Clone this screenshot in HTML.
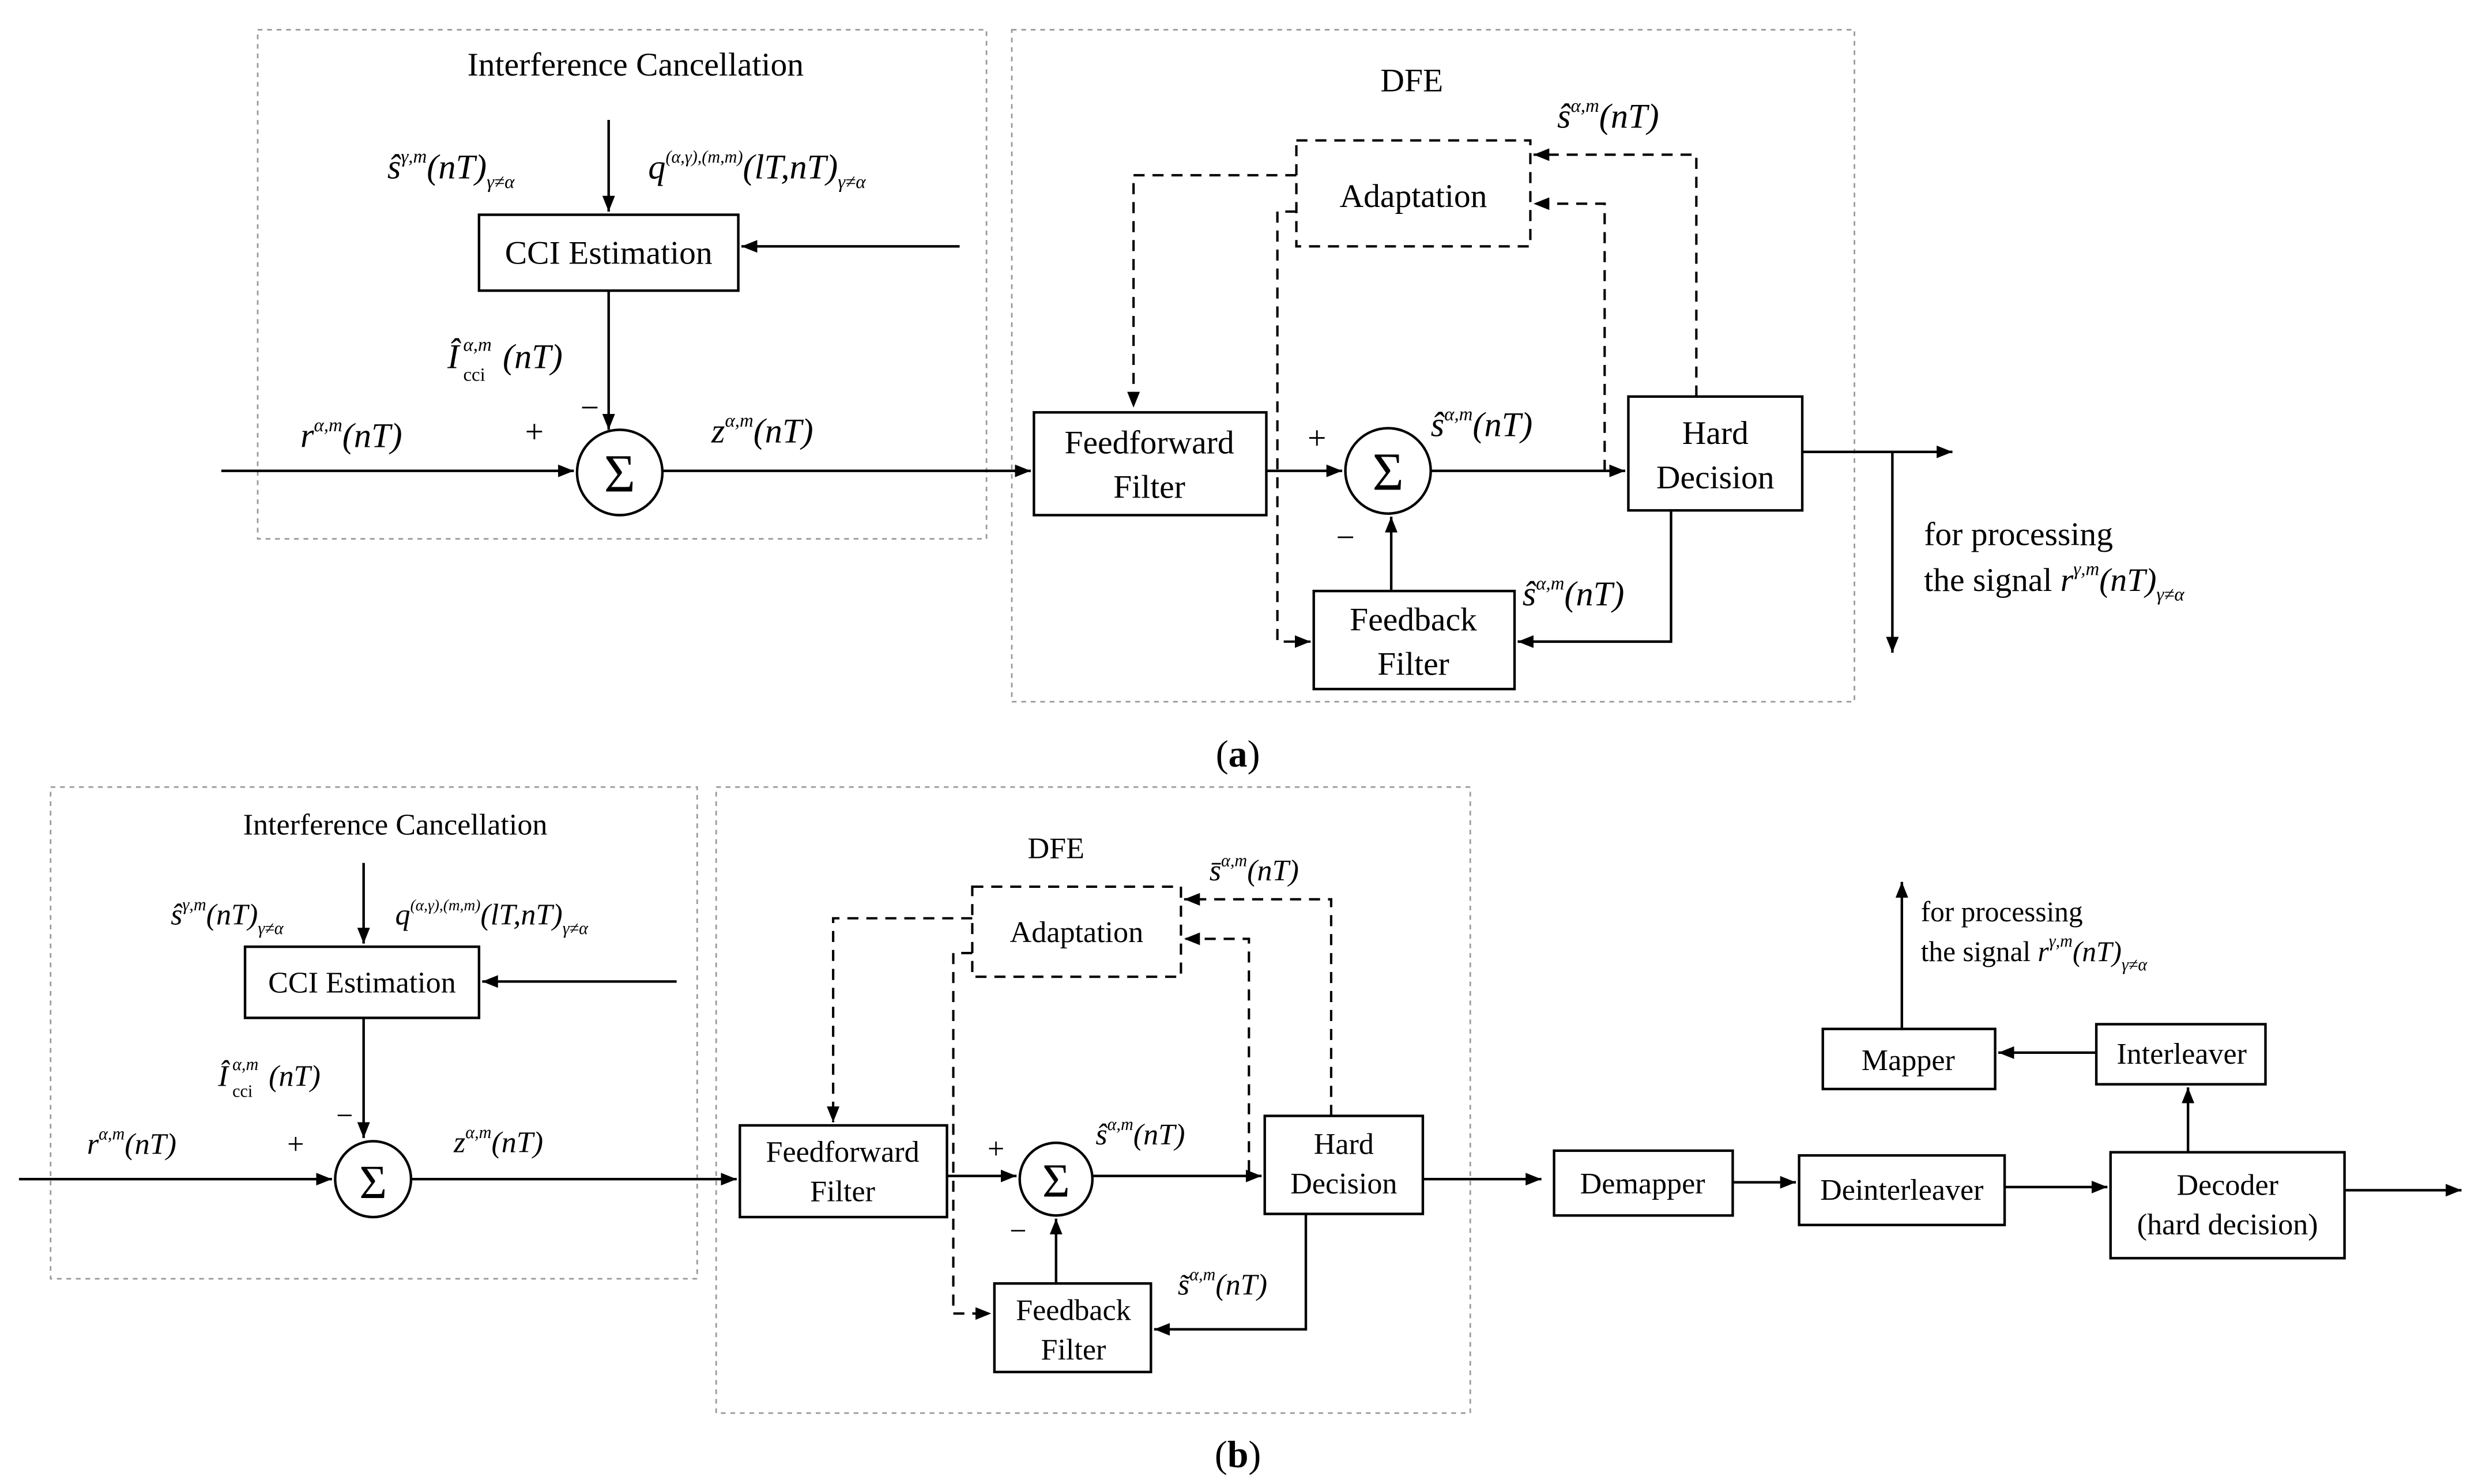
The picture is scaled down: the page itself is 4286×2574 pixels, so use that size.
<!DOCTYPE html>
<html><head><meta charset="utf-8"><style>html,body{margin:0;padding:0;background:#fff}svg{display:block}</style></head><body>
<svg width="4286" height="2574" viewBox="0 0 1563 937" xmlns="http://www.w3.org/2000/svg" font-family="Liberation Serif, serif">
<defs><marker id="ar" markerWidth="10" markerHeight="8" refX="10" refY="4" orient="auto" markerUnits="userSpaceOnUse"><path d="M0,0 L10,4 L0,8 z" fill="#000"/></marker></defs>
<g fill="none" stroke="#999" stroke-width="1" stroke-dasharray="3,3">
<rect x="163" y="18" width="461" height="322"/><rect x="640" y="18" width="533" height="425"/>
<rect x="32" y="497" width="409" height="311"/><rect x="453" y="497" width="477" height="396"/>
</g>
<g fill="none" stroke="#000" stroke-width="1.6">
<rect x="303" y="135" width="164" height="48"/>
<line x1="385" y1="75" x2="385" y2="133" marker-end="url(#ar)"/>
<line x1="607" y1="155" x2="469" y2="155" marker-end="url(#ar)"/>
<line x1="385" y1="183" x2="385" y2="271" marker-end="url(#ar)"/>
<circle cx="392" cy="298" r="27"/>
<line x1="140" y1="297" x2="363" y2="297" marker-end="url(#ar)"/>
<line x1="419" y1="297" x2="652" y2="297" marker-end="url(#ar)"/>
<rect x="654" y="260" width="147" height="65"/>
<line x1="801" y1="297" x2="849" y2="297" marker-end="url(#ar)"/>
<circle cx="878" cy="297" r="27"/>
<line x1="905" y1="297" x2="1028" y2="297" marker-end="url(#ar)"/>
<rect x="1030" y="250" width="110" height="72"/>
<line x1="1140" y1="285" x2="1235" y2="285" marker-end="url(#ar)"/>
<line x1="1197" y1="285" x2="1197" y2="412" marker-end="url(#ar)"/>
<rect x="831" y="373" width="127" height="62"/>
<line x1="880" y1="373" x2="880" y2="326" marker-end="url(#ar)"/>
<polyline points="1057,322 1057,405 960,405" marker-end="url(#ar)"/>
<rect x="155" y="598" width="148" height="45"/>
<line x1="230" y1="545" x2="230" y2="596" marker-end="url(#ar)"/>
<line x1="428" y1="620" x2="305" y2="620" marker-end="url(#ar)"/>
<line x1="230" y1="643" x2="230" y2="719" marker-end="url(#ar)"/>
<circle cx="236" cy="745" r="24"/>
<line x1="12" y1="745" x2="210" y2="745" marker-end="url(#ar)"/>
<line x1="260" y1="745" x2="466" y2="745" marker-end="url(#ar)"/>
<rect x="468" y="711" width="131" height="58"/>
<line x1="599" y1="743" x2="643" y2="743" marker-end="url(#ar)"/>
<circle cx="668" cy="745" r="23"/>
<line x1="691" y1="743" x2="798" y2="743" marker-end="url(#ar)"/>
<rect x="800" y="705" width="100" height="62"/>
<line x1="900" y1="745" x2="975" y2="745" marker-end="url(#ar)"/>
<rect x="983" y="727" width="113" height="41"/>
<line x1="1096" y1="747" x2="1136" y2="747" marker-end="url(#ar)"/>
<rect x="1138" y="730" width="130" height="44"/>
<line x1="1268" y1="750" x2="1333" y2="750" marker-end="url(#ar)"/>
<rect x="1335" y="728" width="148" height="67"/>
<line x1="1483" y1="752" x2="1557" y2="752" marker-end="url(#ar)"/>
<rect x="1326" y="647" width="107" height="38"/>
<line x1="1384" y1="728" x2="1384" y2="687" marker-end="url(#ar)"/>
<rect x="1153" y="650" width="109" height="38"/>
<line x1="1326" y1="665" x2="1264" y2="665" marker-end="url(#ar)"/>
<line x1="1203" y1="650" x2="1203" y2="557" marker-end="url(#ar)"/>
<rect x="629" y="811" width="99" height="56"/>
<line x1="668" y1="811" x2="668" y2="770" marker-end="url(#ar)"/>
<polyline points="826,767 826,840 730,840" marker-end="url(#ar)"/>
</g>
<g fill="none" stroke="#000" stroke-width="1.5" stroke-dasharray="7,5">
<rect x="820" y="88" width="148" height="67"/>
<polyline points="820,110 717,110 717,257" marker-end="url(#ar)"/>
<polyline points="1073,250 1073,97 970,97" marker-end="url(#ar)"/>
<polyline points="1015,297 1015,128 970,128" marker-end="url(#ar)"/>
<polyline points="820,133 808,133 808,405 829,405" marker-end="url(#ar)"/>
<rect x="615" y="560" width="132" height="57"/>
<polyline points="615,580 527,580 527,709" marker-end="url(#ar)"/>
<polyline points="842,705 842,568 749,568" marker-end="url(#ar)"/>
<polyline points="790,740 790,593 749,593" marker-end="url(#ar)"/>
<polyline points="615,602 603,602 603,830 627,830" marker-end="url(#ar)"/>
</g>
<g fill="#000" font-size="21" text-anchor="middle">
<text x="402" y="47">Interference Cancellation</text>
<text x="385" y="166">CCI Estimation</text>
<text x="392" y="310" font-size="34">Σ</text>
<text x="878" y="309" font-size="34">Σ</text>
<text x="893" y="57">DFE</text>
<text x="894" y="130">Adaptation</text>
<text x="727" y="286">Feedforward</text><text x="727" y="314">Filter</text>
<text x="1085" y="280">Hard</text><text x="1085" y="308">Decision</text>
<text x="894" y="398">Feedback</text><text x="894" y="426">Filter</text>
<text x="338" y="279">+</text><text x="373" y="264">−</text>
<text x="833" y="283">+</text><text x="851" y="346">−</text>
<text x="783" y="484" font-size="24">(<tspan font-weight="bold">a</tspan>)</text>
<text x="250" y="527" font-size="19">Interference Cancellation</text>
<text x="229" y="627" font-size="19">CCI Estimation</text>
<text x="236" y="757" font-size="30">Σ</text>
<text x="668" y="756" font-size="30">Σ</text>
<text x="668" y="542" font-size="19">DFE</text>
<text x="681" y="595" font-size="19">Adaptation</text>
<text x="533" y="734" font-size="19">Feedforward</text><text x="533" y="759" font-size="19">Filter</text>
<text x="850" y="729" font-size="19">Hard</text><text x="850" y="754" font-size="19">Decision</text>
<text x="679" y="834" font-size="19">Feedback</text><text x="679" y="859" font-size="19">Filter</text>
<text x="1039" y="754" font-size="19">Demapper</text>
<text x="1203" y="758" font-size="19">Deinterleaver</text>
<text x="1409" y="755" font-size="19">Decoder</text><text x="1409" y="780" font-size="19">(hard decision)</text>
<text x="1380" y="672" font-size="19">Interleaver</text>
<text x="1207" y="676" font-size="19">Mapper</text>
<text x="187" y="729" font-size="19">+</text><text x="218" y="711" font-size="19">−</text>
<text x="630" y="732" font-size="19">+</text><text x="644" y="784" font-size="19">−</text>
<text x="783" y="927" font-size="24">(<tspan font-weight="bold">b</tspan>)</text>
</g>
<g fill="#000" font-size="21">
<text x="1217" y="344">for processing</text>
<text x="1217" y="373">the signal <tspan font-style="italic">r</tspan><tspan font-size="12" dy="-10" font-style="italic">γ,m</tspan><tspan dy="10" font-style="italic">(nT)</tspan><tspan font-size="12" dy="6" font-style="italic">γ≠α</tspan></text>
<text x="1215" y="582" font-size="18">for processing</text>
<text x="1215" y="607" font-size="18">the signal  <tspan font-style="italic">r</tspan><tspan font-size="11" dy="-9" font-style="italic">γ,m</tspan><tspan dy="9" font-style="italic">(nT)</tspan><tspan font-size="11" dy="6" font-style="italic">γ≠α</tspan></text>
</g>
<g fill="#000" font-style="italic" font-size="22">
<text x="245" y="112">ŝ<tspan font-size="12" dy="-10">γ,m</tspan><tspan dy="10">(nT)</tspan><tspan font-size="12" dy="6">γ≠α</tspan></text>
<text x="410" y="112">q<tspan font-size="11" dy="-10">(α,γ),(m,m)</tspan><tspan dy="10">(lT,nT)</tspan><tspan font-size="12" dy="6">γ≠α</tspan></text>
<text x="283" y="232">Î</text><text x="293" y="221" font-size="12">α,m</text><text x="293" y="240" font-size="12" font-style="normal">cci</text><text x="318" y="232">(nT)</text>
<text x="190" y="282">r<tspan font-size="12" dy="-10">α,m</tspan><tspan dy="10">(nT)</tspan></text>
<text x="450" y="279">z<tspan font-size="12" dy="-10">α,m</tspan><tspan dy="10">(nT)</tspan></text>
<text x="905" y="275">ŝ<tspan font-size="12" dy="-10">α,m</tspan><tspan dy="10">(nT)</tspan></text>
<text x="985" y="80">ŝ<tspan font-size="12" dy="-10">α,m</tspan><tspan dy="10">(nT)</tspan></text>
<text x="963" y="382">ŝ<tspan font-size="12" dy="-10">α,m</tspan><tspan dy="10">(nT)</tspan></text>
<g font-size="19">
<text x="108" y="584">ŝ<tspan font-size="11" dy="-9">γ,m</tspan><tspan dy="9">(nT)</tspan><tspan font-size="11" dy="6">γ≠α</tspan></text>
<text x="250" y="584">q<tspan font-size="10" dy="-9">(α,γ),(m,m)</tspan><tspan dy="9">(lT,nT)</tspan><tspan font-size="11" dy="6">γ≠α</tspan></text>
<text x="138" y="686">Î</text><text x="147" y="676" font-size="11">α,m</text><text x="147" y="693" font-size="11" font-style="normal">cci</text><text x="170" y="686">(nT)</text>
<text x="55" y="729">r<tspan font-size="11" dy="-9">α,m</tspan><tspan dy="9">(nT)</tspan></text>
<text x="287" y="728">z<tspan font-size="11" dy="-9">α,m</tspan><tspan dy="9">(nT)</tspan></text>
<text x="693" y="723">ŝ<tspan font-size="11" dy="-9">α,m</tspan><tspan dy="9">(nT)</tspan></text>
<text x="765" y="556">s̄<tspan font-size="11" dy="-9">α,m</tspan><tspan dy="9">(nT)</tspan></text>
<text x="745" y="818">s̃<tspan font-size="11" dy="-9">α,m</tspan><tspan dy="9">(nT)</tspan></text>
</g>
</g>
</svg>
</body></html>
